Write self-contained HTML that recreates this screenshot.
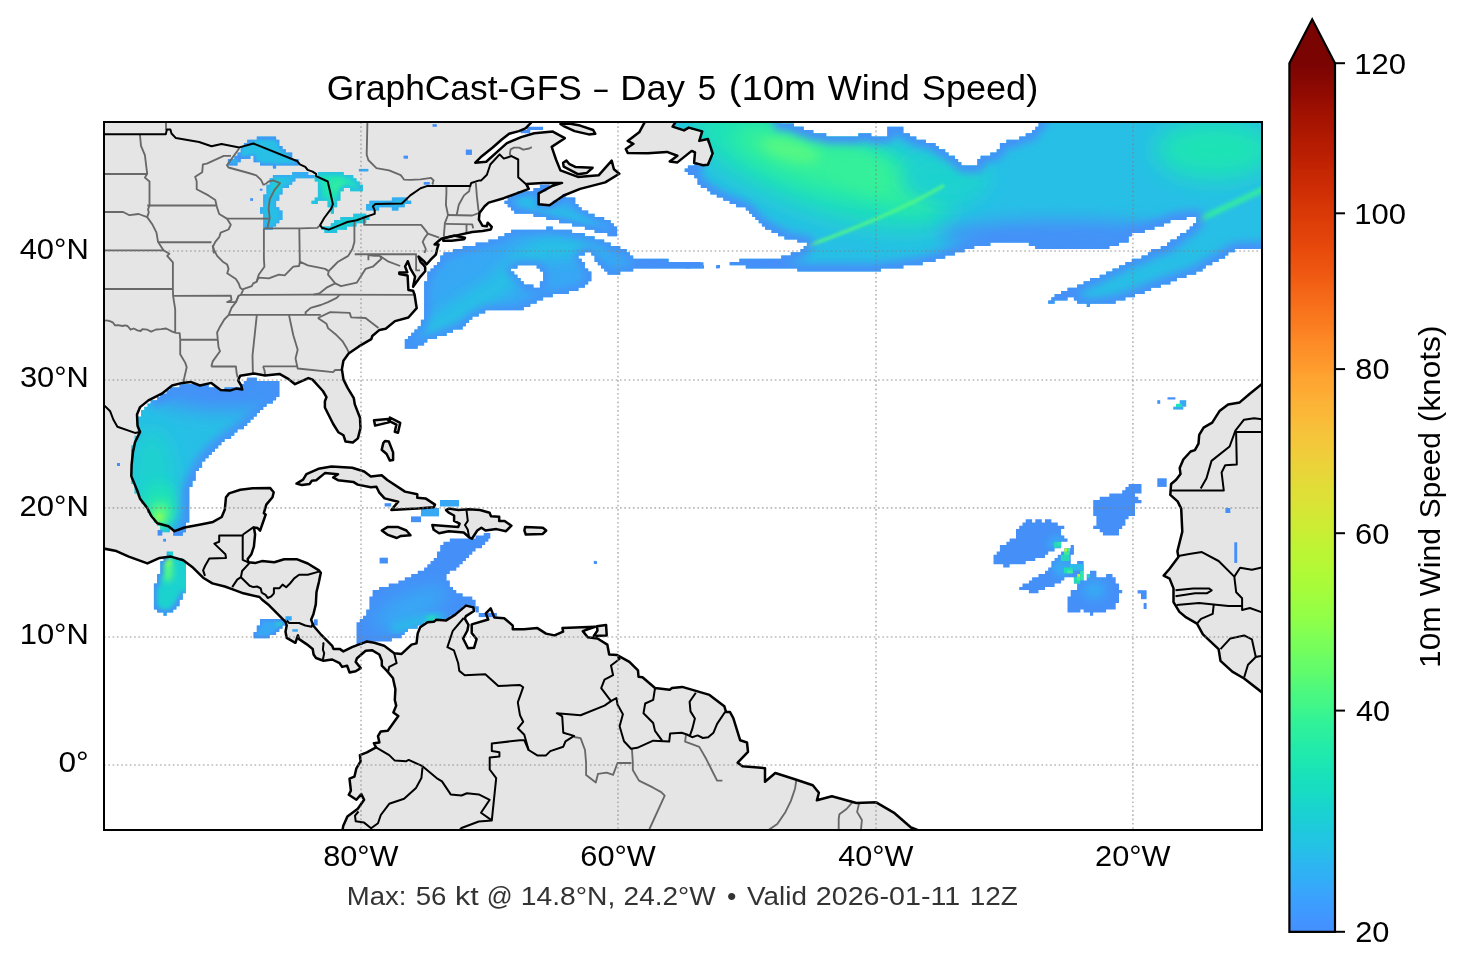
<!DOCTYPE html>
<html><head><meta charset="utf-8"><style>
html,body{margin:0;padding:0;background:#fff;}
svg{display:block;}
text{font-family:"Liberation Sans",sans-serif;}
</style></head><body>
<svg style="will-change:transform" width="1466" height="969" viewBox="0 0 1466 969">
<defs>
<clipPath id="mapclip"><rect x="104" y="122" width="1158" height="708"/></clipPath>
<linearGradient id="cb" gradientUnits="userSpaceOnUse" x1="0" y1="63.2" x2="0" y2="931.8">
<stop offset="0.0000" stop-color="#7a0403"/>
<stop offset="0.0125" stop-color="#810602"/>
<stop offset="0.0250" stop-color="#8b0902"/>
<stop offset="0.0375" stop-color="#920b01"/>
<stop offset="0.0500" stop-color="#9b0f01"/>
<stop offset="0.0625" stop-color="#a41301"/>
<stop offset="0.0750" stop-color="#a91601"/>
<stop offset="0.0875" stop-color="#b21a01"/>
<stop offset="0.1000" stop-color="#b71d02"/>
<stop offset="0.1125" stop-color="#be2102"/>
<stop offset="0.1250" stop-color="#c52603"/>
<stop offset="0.1375" stop-color="#ca2a04"/>
<stop offset="0.1500" stop-color="#d02f05"/>
<stop offset="0.1625" stop-color="#d63506"/>
<stop offset="0.1750" stop-color="#da3907"/>
<stop offset="0.1875" stop-color="#df3f08"/>
<stop offset="0.2000" stop-color="#e2430a"/>
<stop offset="0.2125" stop-color="#e7490c"/>
<stop offset="0.2250" stop-color="#eb500e"/>
<stop offset="0.2375" stop-color="#ed5510"/>
<stop offset="0.2500" stop-color="#f15d13"/>
<stop offset="0.2625" stop-color="#f46617"/>
<stop offset="0.2750" stop-color="#f66c19"/>
<stop offset="0.2875" stop-color="#f9751d"/>
<stop offset="0.3000" stop-color="#fa7b1f"/>
<stop offset="0.3125" stop-color="#fc8423"/>
<stop offset="0.3250" stop-color="#fd8d27"/>
<stop offset="0.3375" stop-color="#fe932a"/>
<stop offset="0.3500" stop-color="#fe9b2d"/>
<stop offset="0.3625" stop-color="#fea431"/>
<stop offset="0.3750" stop-color="#fea933"/>
<stop offset="0.3875" stop-color="#fcb136"/>
<stop offset="0.4000" stop-color="#fbb637"/>
<stop offset="0.4125" stop-color="#f9bc39"/>
<stop offset="0.4250" stop-color="#f6c33a"/>
<stop offset="0.4375" stop-color="#f4c73a"/>
<stop offset="0.4500" stop-color="#efcd3a"/>
<stop offset="0.4625" stop-color="#ebd339"/>
<stop offset="0.4750" stop-color="#e7d739"/>
<stop offset="0.4875" stop-color="#e1dd37"/>
<stop offset="0.5000" stop-color="#dde037"/>
<stop offset="0.5125" stop-color="#d7e535"/>
<stop offset="0.5250" stop-color="#d0ea34"/>
<stop offset="0.5375" stop-color="#cbed34"/>
<stop offset="0.5500" stop-color="#c3f134"/>
<stop offset="0.5625" stop-color="#bcf534"/>
<stop offset="0.5750" stop-color="#b7f735"/>
<stop offset="0.5875" stop-color="#affa37"/>
<stop offset="0.6000" stop-color="#a9fb39"/>
<stop offset="0.6125" stop-color="#a1fd3d"/>
<stop offset="0.6250" stop-color="#99fe42"/>
<stop offset="0.6375" stop-color="#92ff47"/>
<stop offset="0.6500" stop-color="#88ff4e"/>
<stop offset="0.6625" stop-color="#7dff56"/>
<stop offset="0.6750" stop-color="#75fe5c"/>
<stop offset="0.6875" stop-color="#69fd66"/>
<stop offset="0.7000" stop-color="#61fc6c"/>
<stop offset="0.7125" stop-color="#55fa76"/>
<stop offset="0.7250" stop-color="#4af880"/>
<stop offset="0.7375" stop-color="#43f787"/>
<stop offset="0.7500" stop-color="#38f491"/>
<stop offset="0.7625" stop-color="#2ff19b"/>
<stop offset="0.7750" stop-color="#2aefa1"/>
<stop offset="0.7875" stop-color="#22ebaa"/>
<stop offset="0.8000" stop-color="#1fe9af"/>
<stop offset="0.8125" stop-color="#1ae4b6"/>
<stop offset="0.8250" stop-color="#18e0bd"/>
<stop offset="0.8375" stop-color="#18ddc2"/>
<stop offset="0.8500" stop-color="#18d7ca"/>
<stop offset="0.8625" stop-color="#1ad2d2"/>
<stop offset="0.8750" stop-color="#1ccdd8"/>
<stop offset="0.8875" stop-color="#20c7df"/>
<stop offset="0.9000" stop-color="#23c3e4"/>
<stop offset="0.9125" stop-color="#28bceb"/>
<stop offset="0.9250" stop-color="#2eb4f2"/>
<stop offset="0.9375" stop-color="#31aff5"/>
<stop offset="0.9500" stop-color="#37a8fa"/>
<stop offset="0.9625" stop-color="#3ba0fd"/>
<stop offset="0.9750" stop-color="#3e9bfe"/>
<stop offset="0.9875" stop-color="#4294ff"/>
<stop offset="1.0000" stop-color="#448ffe"/>
</linearGradient>
</defs>
<rect width="1466" height="969" fill="#fff"/>
<g clip-path="url(#mapclip)">
<g id="land" fill="#e5e5e5" stroke="none">
<path d="M530.9,110.0 L530.9,122.9 L525.5,128.4 L518.9,131.1 L509.1,133.8 L501.5,139.8 L492.7,147.5 L481.8,156.2 L475.3,162.7 L486.2,161.7 L496.0,152.9 L506.9,143.1 L521.1,137.1 L534.2,133.3 L552.8,131.6 L564.8,138.2 L551.7,146.9 L556.0,159.5 L560.4,170.4 L577.9,176.9 L598.6,175.3 L611.7,160.6 L613.9,169.3 L619.3,173.7 L605.2,182.4 L580.1,188.9 L563.7,195.5 L549.5,205.3 L538.6,204.2 L538.6,193.3 L552.8,185.7 L562.0,182.9 L542.9,182.9 L526.6,184.0 L528.8,188.9 L516.8,193.3 L503.7,198.2 L488.7,202.6 L484.6,206.2 L479.5,212.9 L478.9,219.6 L482.6,225.8 L486.7,226.3 L487.7,222.7 L491.8,226.8 L490.8,229.4 L482.6,231.0 L472.2,232.0 L457.8,235.1 L443.3,238.2 L441.3,238.7 L438.6,241.0 L434.6,244.4 L438.6,244.4 L437.3,248.4 L435.9,254.5 L431.2,259.2 L426.5,264.5 L424.5,261.8 L418.5,256.5 L420.5,261.8 L423.2,264.5 L425.2,267.2 L425.2,271.2 L420.5,276.6 L413.1,286.7 L415.1,276.6 L410.4,268.6 L407.8,261.2 L405.1,266.5 L407.3,272.3 L399.3,272.6 L399.3,273.9 L407.6,275.5 L408.4,290.0 L413.1,290.7 L414.6,294.8 L416.7,308.2 L408.4,317.5 L395.0,321.1 L385.7,328.8 L379.5,329.9 L372.3,336.0 L371.3,339.1 L358.9,346.4 L348.6,353.6 L343.4,360.8 L341.9,369.3 L343.5,379.6 L347.6,387.9 L353.8,398.2 L354.8,404.4 L360.0,417.8 L360.5,428.1 L357.9,438.4 L352.8,442.5 L345.5,441.5 L343.5,435.3 L338.3,432.2 L333.2,424.0 L324.9,407.5 L324.9,401.3 L326.5,397.1 L322.9,391.0 L312.5,379.6 L308.4,378.1 L295.0,384.2 L287.8,378.6 L279.5,373.9 L265.1,375.5 L254.0,373.6 L240.2,375.7 L238.1,380.3 L241.2,385.5 L242.2,389.6 L236.1,388.6 L229.9,390.6 L220.6,390.1 L211.3,382.9 L199.9,385.5 L190.7,381.9 L182.4,382.9 L172.1,385.5 L161.8,393.7 L148.4,400.4 L140.1,407.1 L137.0,414.4 L137.5,425.7 L140.1,431.9 L135.0,442.2 L132.9,452.5 L131.6,465.0 L131.3,476.1 L137.4,491.0 L139.9,498.4 L147.4,508.3 L151.1,515.7 L157.3,523.2 L168.4,526.3 L174.6,531.2 L184.5,527.5 L200.6,524.4 L213.0,521.9 L221.7,517.0 L224.8,509.6 L226.0,497.2 L229.1,493.4 L240.3,489.7 L252.7,488.2 L270.0,487.9 L273.7,492.2 L272.5,497.2 L266.3,504.6 L263.8,513.3 L265.7,514.5 L260.1,530.6 L257.6,528.1 L253.9,527.5 L255.1,534.3 L253.9,546.7 L251.4,554.2 L247.7,559.1 L248.3,562.3 L255.7,562.9 L261.9,561.1 L274.3,562.3 L284.2,559.2 L296.6,559.2 L307.8,563.5 L318.9,570.4 L320.8,572.8 L318.9,582.1 L316.5,592.0 L315.8,604.4 L313.4,614.3 L311.1,619.8 L313.6,626.0 L321.1,634.7 L332.2,645.8 L333.4,648.9 L339.6,648.9 L343.4,651.4 L352.0,647.1 L361.9,643.4 L366.9,641.5 L374.3,642.7 L384.2,645.8 L394.2,653.3 L401.6,653.9 L411.5,644.6 L416.5,643.4 L417.7,633.4 L420.2,627.3 L427.6,622.3 L433.8,621.7 L436.3,619.8 L446.2,620.4 L454.9,614.9 L466.0,605.6 L473.4,607.4 L474.0,611.0 L466.0,616.1 L464.8,618.6 L468.5,624.8 L467.4,630.5 L463.1,638.5 L468.0,648.3 L474.1,647.7 L476.6,639.1 L471.7,633.0 L471.7,624.4 L488.2,619.5 L485.8,613.3 L490.7,608.4 L494.4,617.6 L504.2,618.2 L512.8,625.6 L512.8,629.3 L523.9,629.3 L537.4,628.1 L546.0,633.6 L554.5,635.4 L563.1,631.7 L562.5,628.1 L595.1,626.8 L582.8,631.1 L587.7,637.3 L597.5,638.5 L607.3,644.6 L609.2,654.5 L617.2,655.1 L629.4,661.8 L638.0,670.4 L638.5,676.7 L642.5,677.3 L655.0,688.0 L669.7,689.7 L672.0,688.0 L682.2,686.9 L695.9,690.9 L709.5,694.9 L724.3,706.2 L726.0,711.9 L729.9,711.9 L733.3,718.1 L740.2,740.3 L747.0,742.5 L748.0,751.8 L737.7,762.7 L742.5,766.2 L765.0,768.2 L765.0,781.8 L775.3,773.0 L796.4,779.8 L812.8,785.3 L818.9,792.8 L816.9,800.3 L831.9,796.2 L856.4,803.0 L876.2,802.3 L894.6,813.2 L911.0,827.5 L920.0,831.0 L930.0,845.0 L340.0,845.0 L343.2,826.1 L347.4,816.4 L357.8,808.7 L364.1,799.7 L361.3,794.1 L356.4,799.7 L348.8,794.8 L350.9,790.6 L349.5,778.7 L354.4,776.7 L356.4,768.3 L360.6,761.3 L359.9,755.1 L366.9,752.3 L376.0,747.4 L373.9,743.2 L379.4,742.5 L378.0,736.2 L380.8,731.4 L387.8,730.7 L398.3,716.0 L393.4,712.5 L396.2,705.6 L394.8,700.0 L395.4,689.2 L392.9,678.0 L386.7,670.6 L381.8,665.7 L381.8,660.7 L379.3,654.5 L371.9,650.2 L365.7,650.8 L357.0,658.2 L355.7,661.9 L360.7,668.1 L355.7,671.2 L349.6,672.5 L347.1,665.7 L342.1,666.9 L339.6,663.2 L332.2,659.5 L323.5,660.7 L316.0,658.0 L313.6,654.5 L312.7,649.0 L306.5,644.1 L299.1,639.1 L297.9,635.4 L295.4,642.8 L286.7,637.9 L285.5,631.7 L286.7,625.5 L285.5,621.8 L276.8,613.1 L268.1,604.4 L261.9,599.5 L259.5,597.0 L243.4,593.3 L233.4,589.6 L224.8,586.5 L212.4,583.4 L203.1,577.7 L193.2,567.8 L183.3,560.3 L170.9,556.6 L159.7,557.9 L147.4,563.4 L128.8,556.6 L116.4,551.1 L104.0,548.6 L90.0,546.0 L90.0,110.0 Z"/>
<path d="M443.3,238.2 L453.7,235.6 L465.0,237.7 L464.0,239.2 L451.6,240.8 L443.3,240.8 Z"/>
<path d="M560.4,124.0 L569.1,123.5 L580.1,125.6 L593.2,130.0 L595.3,133.8 L588.8,134.4 L574.6,131.1 L564.8,126.7 Z"/>
<path d="M563.1,162.7 L566.4,160.6 L569.1,163.8 L575.7,167.1 L592.6,167.7 L586.6,173.1 L577.9,174.2 L563.7,166.6 Z"/>
<path d="M675.4,110.0 L675.4,122.3 L672.6,126.6 L684.0,130.4 L688.8,127.6 L702.2,131.4 L699.3,140.9 L707.9,139.0 L712.7,153.3 L707.9,164.8 L703.1,165.3 L694.1,162.9 L695.0,152.4 L691.7,150.9 L677.4,162.4 L669.7,161.5 L677.4,155.7 L666.9,151.9 L647.8,153.3 L627.7,152.9 L625.8,149.0 L633.4,143.8 L627.7,140.9 L639.2,132.3 L644.9,121.8 L644.9,110.0 Z"/>
<path d="M374.0,420.2 L388.2,419.1 L388.8,422.4 L375.1,425.6 Z"/>
<path d="M389.9,417.5 L400.2,422.9 L398.0,432.7 L394.8,431.7 L396.4,424.6 L389.9,421.3 Z"/>
<path d="M385.0,440.9 L388.8,441.5 L393.1,452.4 L393.1,460.0 L389.9,460.6 L386.6,454.0 L381.7,449.7 L383.3,443.1 Z"/>
<path d="M296.5,483.5 L303.1,479.7 L306.4,474.2 L318.4,468.8 L331.5,466.6 L352.2,467.7 L364.2,471.5 L370.8,476.4 L381.7,475.3 L387.3,480.0 L405.0,491.6 L417.3,494.3 L417.3,497.7 L425.5,498.4 L435.0,504.6 L433.7,507.3 L417.3,508.6 L391.4,510.0 L394.1,506.6 L398.2,501.8 L384.6,498.4 L379.1,492.3 L376.4,486.8 L370.8,487.3 L357.7,484.6 L353.3,481.9 L338.0,480.2 L333.1,477.5 L338.0,474.2 L324.9,473.1 L316.2,480.2 L311.8,480.8 L309.6,484.0 L302.0,485.1 Z"/>
<path d="M381.8,530.5 L387.3,527.1 L398.2,527.1 L406.4,530.5 L410.5,535.3 L400.9,535.9 L396.8,538.0 L387.3,534.6 Z"/>
<path d="M446.0,510.0 L448.7,512.7 L454.1,515.5 L454.1,520.9 L459.6,523.7 L458.2,527.1 L441.9,525.7 L432.3,525.0 L433.7,529.8 L439.1,533.2 L448.7,531.2 L463.7,532.5 L469.1,537.3 L471.9,538.7 L477.3,530.5 L481.4,527.7 L485.5,530.5 L496.4,529.1 L506.0,531.2 L511.4,525.7 L504.6,520.9 L499.2,520.9 L499.2,516.8 L491.0,516.2 L489.6,512.7 L480.0,510.0 L469.1,509.3 L458.2,510.0 L448.7,508.6 Z"/>
<path d="M525.1,527.1 L542.8,527.7 L546.2,530.5 L542.8,533.9 L525.8,534.6 L524.4,530.5 Z"/>
<path d="M596.9,626.2 L606.1,625.0 L606.7,635.4 L593.8,636.0 L597.5,630.5 Z"/>
<path d="M1275.0,370.0 L1262.0,384.0 L1249.8,393.7 L1239.7,402.4 L1228.1,404.6 L1219.5,411.1 L1212.2,422.6 L1203.6,427.7 L1199.2,434.9 L1198.5,443.6 L1194.9,450.1 L1190.6,451.5 L1183.3,459.5 L1179.7,468.1 L1180.5,473.9 L1176.1,479.7 L1171.1,484.0 L1170.3,494.9 L1177.6,501.4 L1181.2,508.6 L1182.3,531.6 L1177.4,551.2 L1178.4,557.0 L1169.6,568.8 L1163.7,575.6 L1169.6,578.6 L1173.5,588.4 L1173.5,602.1 L1179.4,611.9 L1185.3,616.8 L1197.0,623.7 L1202.9,634.4 L1218.6,649.1 L1220.5,660.9 L1232.3,671.7 L1244.1,678.5 L1261.7,692.2 L1275.0,700.0 Z"/>
</g>
<g id="wind" stroke="none">
<defs>
<filter id="b14" x="-50%" y="-50%" width="200%" height="200%"><feGaussianBlur stdDeviation="14"/></filter>
<filter id="b10" x="-50%" y="-50%" width="200%" height="200%"><feGaussianBlur stdDeviation="10"/></filter>
<filter id="b9" x="-50%" y="-50%" width="200%" height="200%"><feGaussianBlur stdDeviation="9"/></filter>
<filter id="b6" x="-50%" y="-50%" width="200%" height="200%"><feGaussianBlur stdDeviation="6"/></filter>
<filter id="b12" x="-50%" y="-50%" width="200%" height="200%"><feGaussianBlur stdDeviation="12"/></filter>
<filter id="b1_5" x="-50%" y="-50%" width="200%" height="200%"><feGaussianBlur stdDeviation="1.5"/></filter>
<filter id="b2" x="-50%" y="-50%" width="200%" height="200%"><feGaussianBlur stdDeviation="2"/></filter>
<filter id="b4" x="-50%" y="-50%" width="200%" height="200%"><feGaussianBlur stdDeviation="4"/></filter>
<filter id="b3" x="-50%" y="-50%" width="200%" height="200%"><feGaussianBlur stdDeviation="3"/></filter>
<filter id="b7" x="-50%" y="-50%" width="200%" height="200%"><feGaussianBlur stdDeviation="7"/></filter>
<filter id="b5" x="-50%" y="-50%" width="200%" height="200%"><feGaussianBlur stdDeviation="5"/></filter>
<filter id="b2_5" x="-50%" y="-50%" width="200%" height="200%"><feGaussianBlur stdDeviation="2.5"/></filter>
<clipPath id="cN1"><path d="M671.8,117.2H781.2V120.4H671.8ZM1038.5,117.2H1266.9V120.4H1038.5ZM675.0,120.4H781.2V123.6H675.0ZM1038.5,120.4H1266.9V123.6H1038.5ZM675.0,123.6H794.0V126.8H675.0ZM1038.5,123.6H1266.9V126.8H1038.5ZM678.2,126.8H687.9V130.0H678.2ZM691.1,126.8H803.7V130.0H691.1ZM887.3,126.8H903.4V130.0H887.3ZM1035.3,126.8H1266.9V130.0H1035.3ZM700.8,130.0H813.3V133.3H700.8ZM887.3,130.0H903.4V133.3H887.3ZM1032.1,130.0H1266.9V133.3H1032.1ZM700.8,133.3H826.2V136.5H700.8ZM858.4,133.3H871.3V136.5H858.4ZM887.3,133.3H909.9V136.5H887.3ZM1025.7,133.3H1266.9V136.5H1025.7ZM700.8,136.5H916.3V139.7H700.8ZM1019.2,136.5H1266.9V139.7H1019.2ZM707.2,139.7H925.9V142.9H707.2ZM1006.4,139.7H1266.9V142.9H1006.4ZM710.4,142.9H935.6V146.1H710.4ZM999.9,142.9H1266.9V146.1H999.9ZM710.4,146.1H938.8V149.3H710.4ZM999.9,146.1H1266.9V149.3H999.9ZM710.4,149.3H945.2V152.6H710.4ZM996.7,149.3H1266.9V152.6H996.7ZM713.6,152.6H948.5V155.8H713.6ZM990.3,152.6H1266.9V155.8H990.3ZM710.4,155.8H954.9V159.0H710.4ZM980.6,155.8H1266.9V159.0H980.6ZM710.4,159.0H958.1V162.2H710.4ZM977.4,159.0H1266.9V162.2H977.4ZM694.3,162.2H697.5V165.4H694.3ZM707.2,162.2H961.3V165.4H707.2ZM977.4,162.2H1266.9V165.4H977.4ZM687.9,165.4H1266.9V168.6H687.9ZM684.7,168.6H1266.9V171.9H684.7ZM687.9,171.9H1266.9V175.1H687.9ZM694.3,175.1H1266.9V178.3H694.3ZM697.5,178.3H1266.9V181.5H697.5ZM697.5,181.5H1266.9V184.7H697.5ZM700.8,184.7H1266.9V187.9H700.8ZM707.2,187.9H1266.9V191.2H707.2ZM710.4,191.2H1266.9V194.4H710.4ZM716.8,194.4H1266.9V197.6H716.8ZM723.3,197.6H1266.9V200.8H723.3ZM729.7,200.8H1266.9V204.0H729.7ZM736.1,204.0H1266.9V207.3H736.1ZM745.8,207.3H1266.9V210.5H745.8ZM749.0,210.5H1266.9V213.7H749.0ZM752.2,213.7H1266.9V216.9H752.2ZM755.4,216.9H1186.5V220.1H755.4ZM1196.2,216.9H1266.9V220.1H1196.2ZM758.7,220.1H1170.4V223.3H758.7ZM1196.2,220.1H1266.9V223.3H1196.2ZM761.9,223.3H1164.0V226.6H761.9ZM1193.0,223.3H1266.9V226.6H1193.0ZM765.1,226.6H1154.4V229.8H765.1ZM1189.7,226.6H1266.9V229.8H1189.7ZM771.5,229.8H1144.7V233.0H771.5ZM1186.5,229.8H1266.9V233.0H1186.5ZM778.0,233.0H1131.8V236.2H778.0ZM1180.1,233.0H1266.9V236.2H1180.1ZM784.4,236.2H1128.6V239.4H784.4ZM1176.9,236.2H1266.9V239.4H1176.9ZM797.3,239.4H1128.6V242.6H797.3ZM1170.4,239.4H1266.9V242.6H1170.4ZM806.9,242.6H990.3V245.9H806.9ZM1028.9,242.6H1119.0V245.9H1028.9ZM1167.2,242.6H1266.9V245.9H1167.2ZM803.7,245.9H974.2V249.1H803.7ZM1035.3,245.9H1109.3V249.1H1035.3ZM1160.8,245.9H1266.9V249.1H1160.8ZM800.5,249.1H964.5V252.3H800.5ZM1151.1,249.1H1234.8V252.3H1151.1ZM790.8,252.3H954.9V255.5H790.8ZM1147.9,252.3H1228.3V255.5H1147.9ZM781.2,255.5H945.2V258.7H781.2ZM1141.5,255.5H1225.1V258.7H1141.5ZM739.4,258.7H935.6V261.9H739.4ZM1131.8,258.7H1218.7V261.9H1131.8ZM729.7,261.9H922.7V265.2H729.7ZM1125.4,261.9H1212.3V265.2H1125.4ZM745.8,265.2H903.4V268.4H745.8ZM1119.0,265.2H1205.8V268.4H1119.0ZM797.3,268.4H880.9V271.6H797.3ZM1112.5,268.4H1202.6V271.6H1112.5ZM1106.1,271.6H1196.2V274.8H1106.1ZM1099.7,274.8H1186.5V278.0H1099.7ZM1090.0,278.0H1176.9V281.2H1090.0ZM1083.6,281.2H1170.4V284.5H1083.6ZM1077.1,284.5H1160.8V287.7H1077.1ZM1067.5,287.7H1151.1V290.9H1067.5ZM1061.1,290.9H1144.7V294.1H1061.1ZM1054.6,294.1H1135.0V297.3H1054.6ZM1051.4,297.3H1067.5V300.5H1051.4ZM1073.9,297.3H1125.4V300.5H1073.9ZM1048.2,300.5H1054.6V303.8H1048.2ZM1077.1,300.5H1115.7V303.8H1077.1ZM1086.8,303.8H1090.0V307.0H1086.8Z"/></clipPath>
<clipPath id="cSTL"><path d="M527.0,126.8H543.1V130.0H527.0ZM520.6,130.0H530.3V133.3H520.6Z"/></clipPath>
<clipPath id="cPA"><path d="M539.9,184.7H549.6V187.9H539.9ZM533.5,187.9H546.3V191.2H533.5ZM517.4,191.2H539.9V194.4H517.4ZM511.0,194.4H539.9V197.6H511.0ZM562.4,194.4H565.6V197.6H562.4ZM507.7,197.6H539.9V200.8H507.7ZM559.2,197.6H575.3V200.8H559.2ZM504.5,200.8H539.9V204.0H504.5ZM552.8,200.8H575.3V204.0H552.8ZM507.7,204.0H578.5V207.3H507.7ZM511.0,207.3H581.7V210.5H511.0ZM514.2,210.5H588.2V213.7H514.2ZM533.5,213.7H594.6V216.9H533.5ZM546.3,216.9H604.2V220.1H546.3ZM559.2,220.1H610.7V223.3H559.2ZM572.1,223.3H613.9V226.6H572.1ZM584.9,226.6H617.1V229.8H584.9ZM594.6,229.8H617.1V233.0H594.6ZM607.5,233.0H617.1V236.2H607.5Z"/></clipPath>
<clipPath id="cPB"><path d="M546.3,226.6H552.8V229.8H546.3ZM511.0,229.8H572.1V233.0H511.0ZM504.5,233.0H584.9V236.2H504.5ZM498.1,236.2H594.6V239.4H498.1ZM488.4,239.4H604.2V242.6H488.4ZM475.6,242.6H610.7V245.9H475.6ZM462.7,245.9H620.3V249.1H462.7ZM453.0,249.1H626.8V252.3H453.0ZM443.4,252.3H584.9V255.5H443.4ZM591.4,252.3H630.0V255.5H591.4ZM440.2,255.5H578.5V258.7H440.2ZM594.6,255.5H633.2V258.7H594.6ZM440.2,258.7H581.7V261.9H440.2ZM594.6,258.7H668.6V261.9H594.6ZM437.0,261.9H584.9V265.2H437.0ZM597.8,261.9H700.8V265.2H597.8ZM433.7,265.2H517.4V268.4H433.7ZM536.7,265.2H584.9V268.4H536.7ZM601.0,265.2H704.0V268.4H601.0ZM430.5,268.4H511.0V271.6H430.5ZM539.9,268.4H588.2V271.6H539.9ZM604.2,268.4H633.2V271.6H604.2ZM427.3,271.6H514.2V274.8H427.3ZM543.1,271.6H591.4V274.8H543.1ZM607.5,271.6H620.3V274.8H607.5ZM427.3,274.8H517.4V278.0H427.3ZM543.1,274.8H591.4V278.0H543.1ZM427.3,278.0H520.6V281.2H427.3ZM543.1,278.0H591.4V281.2H543.1ZM424.1,281.2H523.8V284.5H424.1ZM539.9,281.2H588.2V284.5H539.9ZM424.1,284.5H533.5V287.7H424.1ZM539.9,284.5H584.9V287.7H539.9ZM424.1,287.7H578.5V290.9H424.1ZM424.1,290.9H568.9V294.1H424.1ZM424.1,294.1H552.8V297.3H424.1ZM424.1,297.3H543.1V300.5H424.1ZM424.1,300.5H536.7V303.8H424.1ZM424.1,303.8H530.3V307.0H424.1ZM424.1,307.0H523.8V310.2H424.1ZM424.1,310.2H485.2V313.4H424.1ZM424.1,313.4H478.8V316.6H424.1ZM424.1,316.6H472.3V319.8H424.1ZM420.9,319.8H469.1V323.1H420.9ZM420.9,323.1H465.9V326.3H420.9ZM417.7,326.3H462.7V329.5H417.7ZM414.4,329.5H453.0V332.7H414.4ZM411.2,332.7H446.6V335.9H411.2ZM408.0,335.9H437.0V339.1H408.0ZM404.8,339.1H427.3V342.4H404.8ZM404.8,342.4H424.1V345.6H404.8ZM404.8,345.6H417.7V348.8H404.8Z"/></clipPath>
<clipPath id="cSUP"><path d="M256.8,136.5H276.1V139.7H256.8ZM247.2,139.7H279.3V142.9H247.2ZM243.9,142.9H279.3V146.1H243.9ZM240.7,146.1H282.5V149.3H240.7ZM240.7,149.3H285.8V152.6H240.7ZM237.5,152.6H292.2V155.8H237.5ZM234.3,155.8H250.4V159.0H234.3ZM253.6,155.8H292.2V159.0H253.6ZM227.9,159.0H240.7V162.2H227.9ZM253.6,159.0H298.6V162.2H253.6ZM227.9,162.2H237.5V165.4H227.9ZM260.0,162.2H298.6V165.4H260.0ZM272.9,165.4H276.1V168.6H272.9Z"/></clipPath>
<clipPath id="cMICH"><path d="M292.2,171.9H308.3V175.1H292.2ZM272.9,175.1H314.7V178.3H272.9ZM269.7,178.3H295.4V181.5H269.7ZM269.7,181.5H292.2V184.7H269.7ZM266.5,184.7H289.0V187.9H266.5ZM266.5,187.9H282.5V191.2H266.5ZM266.5,191.2H282.5V194.4H266.5ZM263.2,194.4H279.3V197.6H263.2ZM263.2,197.6H279.3V200.8H263.2ZM263.2,200.8H276.1V204.0H263.2ZM263.2,204.0H276.1V207.3H263.2ZM260.0,207.3H279.3V210.5H260.0ZM260.0,210.5H282.5V213.7H260.0ZM263.2,213.7H282.5V216.9H263.2ZM263.2,216.9H282.5V220.1H263.2ZM263.2,220.1H279.3V223.3H263.2ZM263.2,223.3H276.1V226.6H263.2ZM263.2,226.6H272.9V229.8H263.2Z"/></clipPath>
<clipPath id="cHURON"><path d="M317.9,171.9H343.7V175.1H317.9ZM314.7,175.1H353.3V178.3H314.7ZM314.7,178.3H356.5V181.5H314.7ZM317.9,181.5H359.8V184.7H317.9ZM317.9,184.7H363.0V187.9H317.9ZM317.9,187.9H343.7V191.2H317.9ZM350.1,187.9H363.0V191.2H350.1ZM317.9,191.2H340.4V194.4H317.9ZM317.9,194.4H340.4V197.6H317.9ZM314.7,197.6H340.4V200.8H314.7ZM311.5,200.8H317.9V204.0H311.5ZM327.6,200.8H337.2V204.0H327.6ZM327.6,204.0H337.2V207.3H327.6ZM330.8,207.3H334.0V210.5H330.8ZM330.8,210.5H334.0V213.7H330.8Z"/></clipPath>
<clipPath id="cERIE"><path d="M353.3,213.7H366.2V216.9H353.3ZM340.4,216.9H369.4V220.1H340.4ZM334.0,220.1H366.2V223.3H334.0ZM330.8,223.3H356.5V226.6H330.8ZM321.1,226.6H346.9V229.8H321.1ZM324.4,229.8H337.2V233.0H324.4Z"/></clipPath>
<clipPath id="cONT"><path d="M391.9,197.6H408.0V200.8H391.9ZM369.4,200.8H411.2V204.0H369.4ZM366.2,204.0H404.8V207.3H366.2ZM366.2,207.3H379.1V210.5H366.2ZM391.9,207.3H398.4V210.5H391.9Z"/></clipPath>
<clipPath id="cGOM"><path d="M247.2,377.8H256.8V381.0H247.2ZM243.9,381.0H279.3V384.2H243.9ZM179.6,384.2H208.6V387.4H179.6ZM240.7,384.2H279.3V387.4H240.7ZM169.9,387.4H218.2V390.6H169.9ZM224.6,387.4H279.3V390.6H224.6ZM166.7,390.6H279.3V393.8H166.7ZM160.3,393.8H279.3V397.1H160.3ZM157.1,397.1H276.1V400.3H157.1ZM150.6,400.3H272.9V403.5H150.6ZM147.4,403.5H266.5V406.7H147.4ZM144.2,406.7H263.2V409.9H144.2ZM141.0,409.9H260.0V413.1H141.0ZM141.0,413.1H256.8V416.4H141.0ZM137.8,416.4H253.6V419.6H137.8ZM137.8,419.6H250.4V422.8H137.8ZM137.8,422.8H247.2V426.0H137.8ZM137.8,426.0H243.9V429.2H137.8ZM137.8,429.2H237.5V432.4H137.8ZM137.8,432.4H234.3V435.7H137.8ZM134.6,435.7H231.1V438.9H134.6ZM134.6,438.9H224.6V442.1H134.6ZM134.6,442.1H221.4V445.3H134.6ZM131.3,445.3H218.2V448.5H131.3ZM131.3,448.5H215.0V451.7H131.3ZM131.3,451.7H211.8V455.0H131.3ZM131.3,455.0H208.6V458.2H131.3ZM131.3,458.2H205.3V461.4H131.3ZM131.3,461.4H202.1V464.6H131.3ZM131.3,464.6H202.1V467.8H131.3ZM131.3,467.8H198.9V471.0H131.3ZM131.3,471.0H195.7V474.3H131.3ZM131.3,474.3H195.7V477.5H131.3ZM131.3,477.5H195.7V480.7H131.3ZM131.3,480.7H192.5V483.9H131.3ZM134.6,483.9H192.5V487.1H134.6ZM134.6,487.1H189.3V490.3H134.6ZM134.6,490.3H189.3V493.6H134.6ZM137.8,493.6H189.3V496.8H137.8ZM141.0,496.8H189.3V500.0H141.0ZM141.0,500.0H189.3V503.2H141.0ZM144.2,503.2H189.3V506.4H144.2ZM147.4,506.4H189.3V509.6H147.4ZM147.4,509.6H189.3V512.9H147.4ZM150.6,512.9H189.3V516.1H150.6ZM153.9,516.1H189.3V519.3H153.9ZM153.9,519.3H189.3V522.5H153.9ZM157.1,522.5H186.0V525.7H157.1ZM160.3,525.7H186.0V529.0H160.3ZM160.3,529.0H169.9V532.2H160.3ZM173.2,529.0H186.0V532.2H173.2ZM173.2,532.2H182.8V535.4H173.2Z"/></clipPath>
<clipPath id="cTEH"><path d="M166.7,551.5H173.2V554.7H166.7ZM166.7,554.7H173.2V557.9H166.7ZM163.5,557.9H182.8V561.1H163.5ZM160.3,561.1H186.0V564.3H160.3ZM160.3,564.3H186.0V567.6H160.3ZM160.3,567.6H186.0V570.8H160.3ZM160.3,570.8H186.0V574.0H160.3ZM157.1,574.0H186.0V577.2H157.1ZM157.1,577.2H186.0V580.4H157.1ZM157.1,580.4H186.0V583.6H157.1ZM153.9,583.6H186.0V586.9H153.9ZM153.9,586.9H186.0V590.1H153.9ZM153.9,590.1H186.0V593.3H153.9ZM153.9,593.3H182.8V596.5H153.9ZM153.9,596.5H182.8V599.7H153.9ZM153.9,599.7H179.6V602.9H153.9ZM153.9,602.9H179.6V606.2H153.9ZM153.9,606.2H176.4V609.4H153.9ZM157.1,609.4H173.2V612.6H157.1ZM163.5,612.6H166.7V615.8H163.5Z"/></clipPath>
<clipPath id="cPAP"><path d="M260.0,619.0H285.8V622.2H260.0ZM260.0,622.2H285.8V625.5H260.0ZM256.8,625.5H282.5V628.7H256.8ZM256.8,628.7H279.3V631.9H256.8ZM253.6,631.9H276.1V635.1H253.6ZM253.6,635.1H269.7V638.3H253.6Z"/></clipPath>
<clipPath id="cCAR"><path d="M475.6,535.4H488.4V538.6H475.6ZM449.8,538.6H488.4V541.8H449.8ZM443.4,541.8H485.2V545.0H443.4ZM440.2,545.0H482.0V548.3H440.2ZM440.2,548.3H475.6V551.5H440.2ZM437.0,551.5H472.3V554.7H437.0ZM437.0,554.7H469.1V557.9H437.0ZM433.7,557.9H465.9V561.1H433.7ZM430.5,561.1H462.7V564.3H430.5ZM427.3,564.3H459.5V567.6H427.3ZM424.1,567.6H456.3V570.8H424.1ZM417.7,570.8H449.8V574.0H417.7ZM411.2,574.0H446.6V577.2H411.2ZM404.8,577.2H446.6V580.4H404.8ZM398.4,580.4H449.8V583.6H398.4ZM388.7,583.6H449.8V586.9H388.7ZM379.1,586.9H453.0V590.1H379.1ZM372.6,590.1H456.3V593.3H372.6ZM372.6,593.3H462.7V596.5H372.6ZM369.4,596.5H472.3V599.7H369.4ZM369.4,599.7H475.6V602.9H369.4ZM369.4,602.9H475.6V606.2H369.4ZM369.4,606.2H462.7V609.4H369.4ZM472.3,606.2H478.8V609.4H472.3ZM366.2,609.4H459.5V612.6H366.2ZM475.6,609.4H478.8V612.6H475.6ZM366.2,612.6H456.3V615.8H366.2ZM363.0,615.8H449.8V619.0H363.0ZM359.8,619.0H433.7V622.2H359.8ZM356.5,622.2H424.1V625.5H356.5ZM356.5,625.5H417.7V628.7H356.5ZM356.5,628.7H408.0V631.9H356.5ZM356.5,631.9H404.8V635.1H356.5ZM356.5,635.1H401.6V638.3H356.5ZM356.5,638.3H391.9V641.5H356.5ZM356.5,641.5H363.0V644.8H356.5Z"/></clipPath>
<clipPath id="cE1"><path d="M1025.7,519.3H1032.1V522.5H1025.7ZM1035.3,519.3H1041.8V522.5H1035.3ZM1045.0,519.3H1051.4V522.5H1045.0ZM1022.5,522.5H1057.8V525.7H1022.5ZM1019.2,525.7H1064.3V529.0H1019.2ZM1016.0,529.0H1061.1V532.2H1016.0ZM1016.0,532.2H1061.1V535.4H1016.0ZM1016.0,535.4H1064.3V538.6H1016.0ZM1009.6,538.6H1067.5V541.8H1009.6ZM1006.4,541.8H1061.1V545.0H1006.4ZM999.9,545.0H1061.1V548.3H999.9ZM999.9,548.3H1054.6V551.5H999.9ZM996.7,551.5H1048.2V554.7H996.7ZM993.5,554.7H1045.0V557.9H993.5ZM993.5,557.9H1035.3V561.1H993.5ZM993.5,561.1H1025.7V564.3H993.5ZM1003.2,564.3H1009.6V567.6H1003.2Z"/></clipPath>
<clipPath id="cE23"><path d="M1070.7,545.0H1073.9V548.3H1070.7ZM1064.3,548.3H1073.9V551.5H1064.3ZM1061.1,551.5H1073.9V554.7H1061.1ZM1057.8,554.7H1070.7V557.9H1057.8ZM1054.6,557.9H1070.7V561.1H1054.6ZM1051.4,561.1H1070.7V564.3H1051.4ZM1077.1,561.1H1083.6V564.3H1077.1ZM1051.4,564.3H1083.6V567.6H1051.4ZM1048.2,567.6H1083.6V570.8H1048.2ZM1045.0,570.8H1083.6V574.0H1045.0ZM1090.0,570.8H1096.4V574.0H1090.0ZM1038.5,574.0H1083.6V577.2H1038.5ZM1086.8,574.0H1096.4V577.2H1086.8ZM1106.1,574.0H1112.5V577.2H1106.1ZM1032.1,577.2H1064.3V580.4H1032.1ZM1073.9,577.2H1083.6V580.4H1073.9ZM1086.8,577.2H1115.7V580.4H1086.8ZM1028.9,580.4H1061.1V583.6H1028.9ZM1073.9,580.4H1115.7V583.6H1073.9ZM1022.5,583.6H1054.6V586.9H1022.5ZM1077.1,583.6H1119.0V586.9H1077.1ZM1019.2,586.9H1045.0V590.1H1019.2ZM1077.1,586.9H1119.0V590.1H1077.1ZM1028.9,590.1H1038.5V593.3H1028.9ZM1070.7,590.1H1122.2V593.3H1070.7ZM1070.7,593.3H1119.0V596.5H1070.7ZM1067.5,596.5H1119.0V599.7H1067.5ZM1067.5,599.7H1119.0V602.9H1067.5ZM1067.5,602.9H1115.7V606.2H1067.5ZM1067.5,606.2H1115.7V609.4H1067.5ZM1067.5,609.4H1080.4V612.6H1067.5ZM1083.6,609.4H1106.1V612.6H1083.6ZM1090.0,612.6H1093.2V615.8H1090.0Z"/></clipPath>
<clipPath id="cE4"><path d="M1128.6,483.9H1141.5V487.1H1128.6ZM1125.4,487.1H1141.5V490.3H1125.4ZM1122.2,490.3H1141.5V493.6H1122.2ZM1109.3,493.6H1135.0V496.8H1109.3ZM1099.7,496.8H1138.3V500.0H1099.7ZM1093.2,500.0H1141.5V503.2H1093.2ZM1093.2,503.2H1135.0V506.4H1093.2ZM1093.2,506.4H1135.0V509.6H1093.2ZM1093.2,509.6H1135.0V512.9H1093.2ZM1093.2,512.9H1135.0V516.1H1093.2ZM1096.4,516.1H1128.6V519.3H1096.4ZM1096.4,519.3H1125.4V522.5H1096.4ZM1096.4,522.5H1125.4V525.7H1096.4ZM1093.2,525.7H1122.2V529.0H1093.2ZM1099.7,529.0H1119.0V532.2H1099.7ZM1102.9,532.2H1119.0V535.4H1102.9Z"/></clipPath>
</defs>
<g clip-path="url(#cN1)">
<rect x="666" y="113" width="605" height="198" fill="#27bfe6"/>
<ellipse cx="820" cy="165" rx="140" ry="45" fill="#1fe3b6" filter="url(#b14)" transform="rotate(20 820 165)"/>
<ellipse cx="815" cy="160" rx="85" ry="24" fill="#34f09a" filter="url(#b10)" transform="rotate(18 815 160)"/>
<ellipse cx="885" cy="180" rx="55" ry="18" fill="#34f09a" filter="url(#b9)" transform="rotate(25 885 180)"/>
<ellipse cx="790" cy="150" rx="30" ry="10" fill="#55f883" filter="url(#b6)" transform="rotate(15 790 150)"/>
<ellipse cx="945" cy="178" rx="45" ry="28" fill="#1bd2cf" filter="url(#b10)"/>
<ellipse cx="1060" cy="236" rx="120" ry="16" fill="#4490f8" filter="url(#b9)"/>
<ellipse cx="1215" cy="150" rx="60" ry="30" fill="#1fe3b6" filter="url(#b12)"/>
<path d="M943,186 Q895,214 805,247" fill="none" stroke="#55f883" stroke-width="3" stroke-linecap="round" filter="url(#b1_5)"/>
<path d="M1264,189 L1194,222" fill="none" stroke="#34f09a" stroke-width="5" stroke-linecap="round" filter="url(#b2)"/>
<path d="M780.0,118.0 L780.0,123.5 L793.8,123.5 L793.8,126.3 L803.0,127.2 L803.0,130.0 L813.1,130.9 L813.1,133.7 L826.0,133.7 L826.0,136.4 L858.3,136.4 L858.3,132.7 L871.2,132.7 L871.2,136.4 L886.8,136.0 L886.8,128.1 L902.5,128.1 L905.2,132.7 L912.6,135.5 L917.0,139.0 L928.0,141.5 L936.0,145.0 L943.0,150.0 L951.0,155.0 L958.0,160.0 L963.0,165.5 L977.0,166.0 L978.0,160.0 L980.5,157.0 L996.0,153.0 L1000.0,145.0 L1006.0,141.0 L1016.0,139.5 L1021.0,136.0 L1031.0,134.0 L1034.0,128.0 L1040.0,123.5 L1040.0,118.0 M1266.0,248.5 L1237.6,249.5 L1231.3,251.6 L1223.0,257.8 L1210.5,264.1 L1198.0,272.5 L1183.3,277.7 L1168.7,282.9 L1154.1,288.1 L1133.2,296.5 L1112.4,302.7 L1087.3,305.9 L1076.9,301.7 L1072.7,297.5 L1058.1,301.7 L1048.7,302.7 L1051.8,297.5 L1064.4,291.2 L1076.9,286.0 L1093.6,278.7 L1106.1,272.5 L1118.6,266.2 L1131.2,259.9 L1141.6,256.8 L1154.1,249.5 L1166.6,245.3 L1177.1,237.0 L1189.6,228.6 L1195.9,223.4 L1195.9,217.1 L1172.9,220.3 L1164.5,224.4 L1143.7,231.8 L1133.2,233.8 L1127.0,241.1 L1112.4,247.4 L1035.1,248.5 L1028.9,243.2 L996.5,243.2 L974.7,246.9 L946.0,257.1 L921.5,264.3 L892.8,268.4 L870.3,271.1 L806.9,270.4 L755.7,268.4 L727.1,263.3 L745.5,259.2 L780.3,257.1 L800.7,251.0 L806.9,243.8 L786.4,238.7 L770.0,230.5 L757.8,222.4 L747.5,210.1 L733.2,203.9 L723.0,199.8 L710.7,192.7 L700.5,185.5 L692.3,175.3 L684.1,170.2 L694.1,162.9 L703.1,165.3" fill="none" stroke="#4490f8" stroke-width="14" stroke-linejoin="round" filter="url(#b4)"/>
</g>
<g clip-path="url(#cSTL)">
<rect x="513" y="122" width="35" height="15" fill="#4490f8"/>
</g>
<g clip-path="url(#cPA)">
<rect x="500" y="179" width="123" height="61" fill="#37a8f4"/>
<ellipse cx="538" cy="206" rx="26" ry="7" fill="#27bfe6" filter="url(#b4)" transform="rotate(22 538 206)"/>
<ellipse cx="575" cy="218" rx="22" ry="5" fill="#27bfe6" filter="url(#b4)" transform="rotate(20 575 218)"/>
<path d="M504.8,200.7 L517.9,192.0 L531.0,190.9 L539.7,185.5 L552.8,184.4 L539.7,193.1 L539.7,204.0 L549.5,205.3 L563.7,195.5 L572.5,197.5 L581.2,208.4 L596.5,216.0 L607.4,219.3 L618.3,230.2 L618.3,235.7 L607.4,234.6 L592.1,230.2 L570.3,224.8 L548.4,219.3 L531.0,214.9 L515.7,212.7 L507.0,205.1 Z" fill="none" stroke="#4490f8" stroke-width="8" stroke-linejoin="round" filter="url(#b3)"/>
</g>
<g clip-path="url(#cPB)">
<rect x="399" y="223" width="309" height="132" fill="#37a8f4"/>
<path d="M432,330 Q470,305 500,285 Q520,258 548,247 L590,247" fill="none" stroke="#27bfe6" stroke-width="24" stroke-linecap="round" filter="url(#b7)"/>
<path d="M404.4,350.3 L404.4,341.5 L421.8,324.1 L424.0,311.0 L424.0,289.1 L428.4,271.7 L439.3,260.8 L443.7,254.2 L461.1,247.7 L478.6,243.3 L496.0,238.9 L509.1,232.4 L517.9,229.1 L552.8,228.0 L570.3,231.3 L592.1,236.8 L609.6,243.3 L624.8,249.9 L635.8,258.6 L661.9,259.7 L701.2,262.9 L703.4,267.3 L661.9,268.4 L640.1,268.4 L618.3,273.9 L607.4,273.9 L596.5,262.9 L589.9,252.0 L579.0,256.4 L589.9,271.7 L589.9,282.6 L574.6,291.3 L552.8,295.7 L531.0,304.4 L517.9,311.0 L487.3,311.0 L474.2,317.5 L461.1,328.4 L443.7,335.0 L426.2,341.5 L413.1,350.3 Z M511.3,269.5 L522.2,265.1 L539.7,267.3 L543.0,276.0 L539.7,287.0 L526.6,284.8 L517.9,276.0 Z" fill="none" stroke="#4490f8" stroke-width="10" stroke-linejoin="round" filter="url(#b4)"/>
</g>
<g clip-path="url(#cSUP)">
<rect x="221" y="132" width="82" height="41" fill="#27bfe6"/>
<path d="M226.4,164.8 L227.7,159.3 L238.6,156.6 L240.0,147.7 L244.1,143.6 L250.2,140.2 L257.1,137.5 L274.1,137.5 L278.9,140.2 L280.9,146.4 L285.0,150.5 L291.8,153.2 L291.8,157.3 L298.7,161.4 L297.3,165.5 L275.5,166.2 L275.5,168.2 L272.7,168.2 L272.7,165.5 L263.2,165.5 L253.6,162.1 L253.6,156.6 L240.0,159.3 L238.6,165.5 L233.2,165.5 L230.5,164.8 Z" fill="none" stroke="#4490f8" stroke-width="4" stroke-linejoin="round" filter="url(#b1_5)"/>
</g>
<g clip-path="url(#cMICH)">
<rect x="256" y="167" width="63" height="66" fill="#27bfe6"/>
<ellipse cx="277" cy="185" rx="5" ry="8" fill="#1bd2cf" filter="url(#b3)"/>
<path d="M263.2,228.2 L263.2,219.4 L260.5,211.9 L260.5,207.8 L263.2,203.7 L263.9,198.2 L265.9,188.7 L268.7,181.8 L268.7,177.7 L274.1,175.7 L279.6,175.0 L289.1,175.0 L291.8,173.0 L295.9,173.0 L298.7,172.3 L304.1,172.3 L312.3,175.0 L313.7,177.1 L295.9,177.7 L293.2,181.2 L290.5,185.9 L289.1,188.0 L285.0,187.3 L282.3,192.8 L279.6,198.2 L276.8,200.9 L276.8,206.4 L280.9,210.5 L281.6,218.7 L278.2,224.1 L272.7,228.2 Z" fill="none" stroke="#37a8f4" stroke-width="4" stroke-linejoin="round" filter="url(#b1_5)"/>
</g>
<g clip-path="url(#cHURON)">
<rect x="306" y="167" width="62" height="51" fill="#1fe3b6"/>
<ellipse cx="338" cy="186" rx="8" ry="6" fill="#34f09a" filter="url(#b4)"/>
<path d="M313.7,175.0 L319.1,172.3 L324.6,172.3 L339.6,172.3 L343.7,172.3 L346.4,175.0 L353.2,176.4 L356.0,180.5 L360.1,184.6 L362.8,185.9 L362.8,190.7 L350.5,190.7 L347.8,187.3 L342.3,190.0 L341.0,195.5 L336.9,203.7 L334.1,211.9 L331.4,213.2 L328.7,206.4 L326.0,200.9 L320.5,200.9 L313.7,203.7 L311.0,202.3 L315.0,198.2 L319.1,194.1 L317.8,187.3 L316.4,180.5 Z" fill="none" stroke="#27bfe6" stroke-width="6" stroke-linejoin="round" filter="url(#b2)"/>
</g>
<g clip-path="url(#cERIE)">
<rect x="314" y="209" width="59" height="28" fill="#1bd2cf"/>
<path d="M319.1,225.5 L320.5,231.0 L334.1,232.3 L345.1,229.6 L353.2,225.5 L366.9,222.8 L368.2,218.7 L366.9,213.9 L356.0,214.6 L347.8,217.3 L341.0,217.3 L336.9,220.0 L332.8,224.1 L327.3,225.5 Z" fill="none" stroke="#27bfe6" stroke-width="4" stroke-linejoin="round" filter="url(#b1_5)"/>
</g>
<g clip-path="url(#cONT)">
<rect x="361" y="192" width="54" height="23" fill="#27bfe6"/>
<path d="M366.2,204.4 L372.3,200.9 L392.8,200.9 L393.5,198.2 L409.2,197.5 L410.5,203.7 L398.3,207.1 L398.3,210.5 L392.8,210.5 L392.1,207.1 L379.2,207.1 L378.5,210.5 L366.9,210.5 Z" fill="none" stroke="#37a8f4" stroke-width="4" stroke-linejoin="round" filter="url(#b1_5)"/>
</g>
<g clip-path="url(#cGOM)">
<rect x="126" y="374" width="157" height="166" fill="#27bfe6"/>
<ellipse cx="225" cy="393" rx="70" ry="18" fill="#4490f8" filter="url(#b10)"/>
<ellipse cx="152" cy="480" rx="22" ry="50" fill="#1bd2cf" filter="url(#b10)"/>
<ellipse cx="160" cy="505" rx="18" ry="22" fill="#1fe3b6" filter="url(#b7)"/>
<ellipse cx="160" cy="514" rx="10" ry="12" fill="#55f883" filter="url(#b5)"/>
<ellipse cx="159" cy="517" rx="4.5" ry="4.5" fill="#86fc5e" filter="url(#b2_5)"/>
<ellipse cx="178" cy="530" rx="8" ry="6" fill="#1bd2cf" filter="url(#b4)"/>
<path d="M150.4,401.6 L162.6,394.6 L174.9,386.7 L183.7,384.9 L192.5,383.2 L208.2,385.8 L218.8,389.3 L232.8,388.4 L239.8,387.5 L243.3,381.4 L246.8,378.8 L278.4,380.5 L278.4,396.3 L267.9,405.1 L255.6,417.4 L245.1,426.1 L232.8,434.9 L218.8,445.4 L208.2,456.0 L199.5,468.2 L192.5,482.3 L188.9,492.8 L188.9,519.1 L185.4,526.1 L183.7,534.9 L173.2,534.9" fill="none" stroke="#4490f8" stroke-width="14" stroke-linejoin="round" filter="url(#b5)"/>
</g>
<g clip-path="url(#cTEH)">
<rect x="149" y="547" width="42" height="73" fill="#1bd2cf"/>
<ellipse cx="168" cy="570" rx="5" ry="12" fill="#55f883" filter="url(#b3)"/>
<ellipse cx="168" cy="562" rx="3" ry="4" fill="#86fc5e" filter="url(#b2)"/>
<path d="M185.5,593.1 L182.7,594.1 L182.7,599.6 L179.0,600.6 L179.0,605.2 L175.7,606.1 L175.7,608.9 L172.5,609.9 L172.5,612.6 L166.0,612.6 L166.0,615.4 L163.2,615.4 L163.2,612.6 L157.2,612.6 L157.2,608.9 L153.9,608.5 L153.9,583.9 L157.2,583.9 L157.2,574.1 L160.0,573.6 L160.0,561.6 L163.2,559.7 L166.0,556.0 L166.0,552.3" fill="none" stroke="#4490f8" stroke-width="6" stroke-linejoin="round" filter="url(#b2)"/>
</g>
<g clip-path="url(#cPAP)">
<rect x="246" y="612" width="46" height="31" fill="#37a8f4"/>
<ellipse cx="281" cy="624" rx="5" ry="3" fill="#1fe3b6" filter="url(#b2)"/>
<path d="M253.3,636.6 L250.8,636.6 L257.0,629.2 L260.7,621.8 L263.2,616.8 L266.9,619.3 L274.3,619.3 L285.5,620.5 L286.7,625.5 L281.8,626.7 L274.3,634.2 L268.1,637.9 L253.3,637.9 Z" fill="none" stroke="#4490f8" stroke-width="4" stroke-linejoin="round" filter="url(#b1_5)"/>
</g>
<g clip-path="url(#cCAR)">
<rect x="350" y="531" width="145" height="120" fill="#4490f8"/>
<ellipse cx="410" cy="608" rx="40" ry="14" fill="#37a8f4" filter="url(#b9)" transform="rotate(-25 410 608)"/>
<path d="M395,628 Q415,622 440,617" fill="none" stroke="#27bfe6" stroke-width="9" stroke-linecap="round" filter="url(#b4)"/>
<ellipse cx="432" cy="619" rx="6" ry="3" fill="#1fe3b6" filter="url(#b2_5)"/>
</g>
<g clip-path="url(#cE1)">
<rect x="988" y="514" width="83" height="58" fill="#4490f8"/>
<ellipse cx="1055" cy="542" rx="9" ry="5" fill="#37a8f4" filter="url(#b3)" transform="rotate(-30 1055 542)"/>
<rect x="1053.7" y="541.9" width="10.1" height="5.8" fill="#27d7bd"/>
<rect x="1057.0" y="541.9" width="6.8" height="3.1" fill="#30e3aa"/>
</g>
<g clip-path="url(#cE23)">
<rect x="1014" y="540" width="112" height="80" fill="#4490f8"/>
<ellipse cx="1094" cy="590" rx="12" ry="10" fill="#37a8f4" filter="url(#b5)"/>
<ellipse cx="1062" cy="568" rx="10" ry="9" fill="#37a8f4" filter="url(#b3)"/>
<rect x="1069.6" y="563.9" width="16.2" height="6.5" fill="#2bbbea"/>
<rect x="1060.9" y="554.9" width="8.7" height="6.1" fill="#25d9b8"/>
<rect x="1063.8" y="551.7" width="5.8" height="3.2" fill="#3aeb9c"/>
<rect x="1063.8" y="548.1" width="3.3" height="3.6" fill="#a8f83f"/>
<rect x="1067.1" y="548.1" width="2.9" height="3.6" fill="#48f090"/>
<rect x="1063.8" y="567.5" width="8.7" height="5.8" fill="#22dcb5"/>
<rect x="1067.1" y="570.4" width="5.8" height="2.9" fill="#40ee98"/>
<rect x="1073.2" y="576.9" width="6.9" height="6.9" fill="#22dcb5"/>
<rect x="1077.2" y="574.0" width="2.9" height="2.9" fill="#cbe83a"/>
<rect x="1077.2" y="576.9" width="2.9" height="3.6" fill="#45f095"/>
<rect x="1080.1" y="570.8" width="2.9" height="9.7" fill="#2fe6a8"/>
<rect x="1086.2" y="574.0" width="3.6" height="3.7" fill="#25d6bc"/>
</g>
<g clip-path="url(#cE4)">
<rect x="1088" y="479" width="57" height="62" fill="#4490f8"/>
</g>
<rect x="432.5" y="124.1" width="4.3" height="2.7" fill="#4490f8"/>
<rect x="465.8" y="149.6" width="6.1" height="5.3" fill="#4490f8"/>
<rect x="403.5" y="155.7" width="4.4" height="2.7" fill="#4490f8"/>
<rect x="423.7" y="182.0" width="6.1" height="2.7" fill="#4490f8"/>
<rect x="358.8" y="168.9" width="9.6" height="2.6" fill="#37a8f4"/>
<rect x="404.4" y="155.9" width="3.4" height="2.7" fill="#4490f8"/>
<rect x="259.8" y="188.7" width="2.7" height="2.0" fill="#4490f8"/>
<rect x="250.2" y="198.2" width="2.8" height="2.7" fill="#4490f8"/>
<rect x="411.0" y="516.4" width="10.0" height="5.8" fill="#4490f8"/>
<rect x="421.0" y="508.0" width="18.0" height="8.4" fill="#37a8f4"/>
<rect x="440.0" y="500.0" width="19.0" height="6.5" fill="#37a8f4"/>
<rect x="384.6" y="503.2" width="6.6" height="3.3" fill="#4490f8"/>
<rect x="379.6" y="557.7" width="8.3" height="5.8" fill="#4490f8"/>
<rect x="483.7" y="533.0" width="6.6" height="5.7" fill="#4490f8"/>
<rect x="478.7" y="613.0" width="18.2" height="4.1" fill="#4490f8"/>
<rect x="285.5" y="616.2" width="6.2" height="4.3" fill="#37a8f4"/>
<rect x="292.3" y="629.2" width="5.6" height="2.5" fill="#37a8f4"/>
<rect x="314.0" y="619.3" width="3.7" height="6.2" fill="#4490f8"/>
<rect x="157.6" y="530.0" width="4.7" height="5.6" fill="#4490f8"/>
<rect x="163.2" y="538.8" width="2.8" height="2.8" fill="#4490f8"/>
<rect x="173.4" y="531.9" width="9.3" height="3.7" fill="#4490f8"/>
<rect x="1157.3" y="400.2" width="2.9" height="3.6" fill="#4490f8"/>
<rect x="1167.5" y="397.3" width="7.9" height="2.2" fill="#4490f8"/>
<rect x="1179.7" y="400.2" width="6.5" height="6.5" fill="#37a8f4"/>
<rect x="1173.2" y="406.7" width="10.1" height="2.9" fill="#37a8f4"/>
<rect x="1176.0" y="403.8" width="6.0" height="3.2" fill="#1fe3b6"/>
<rect x="1157.3" y="478.3" width="9.4" height="8.6" fill="#4490f8"/>
<rect x="1234.3" y="542.3" width="2.9" height="20.6" fill="#4490f8"/>
<rect x="1225.4" y="508.0" width="4.9" height="5.0" fill="#4490f8"/>
<rect x="1137.6" y="590.2" width="9.0" height="3.3" fill="#4490f8"/>
<rect x="1141.0" y="593.0" width="5.6" height="6.2" fill="#4490f8"/>
<rect x="1143.6" y="603.0" width="3.0" height="6.0" fill="#4490f8"/>
<rect x="716.5" y="265.0" width="3.5" height="3.0" fill="#4490f8"/>
<rect x="680.0" y="262.3" width="23.5" height="3.2" fill="#4490f8"/>
<rect x="686.0" y="265.0" width="4.0" height="3.4" fill="#4490f8"/>
<rect x="716.0" y="265.4" width="3.5" height="3.0" fill="#4490f8"/>
<rect x="593.8" y="560.9" width="3.0" height="3.0" fill="#4490f8"/>
<rect x="595.0" y="562.0" width="2.0" height="2.0" fill="#4490f8"/>
<rect x="131.0" y="449.0" width="3.0" height="3.0" fill="#4490f8"/>
<rect x="117.0" y="463.0" width="3.0" height="3.0" fill="#4490f8"/>
</g>
<g id="states" fill="none" stroke="#686868" stroke-width="1.85" stroke-linejoin="round">
<path d="M100.0,174.0 L147.2,174.0"/>
<path d="M139.9,134.3 L141.0,145.9 L144.9,155.2 L146.4,167.5 L147.2,173.7 L144.9,177.6 L149.5,181.5 L149.5,205.5"/>
<path d="M147.2,205.5 L216.1,205.5"/>
<path d="M100.0,212.0 L123.2,212.0 L129.4,215.2 L138.7,214.0 L147.2,217.1"/>
<path d="M149.5,205.5 L148.0,209.3 L148.8,212.4 L147.2,217.1 L152.6,224.8 L156.5,232.6 L158.0,241.8 L163.6,250.4 L169.4,253.7 L167.2,255.9 L172.9,262.4 L172.9,289.0 L173.1,295.8 L175.2,309.4 L175.2,332.5"/>
<path d="M158.0,242.2 L211.5,242.2"/>
<path d="M100.0,250.4 L163.6,250.4"/>
<path d="M100.0,289.0 L172.9,289.0"/>
<path d="M173.1,295.8 L230.8,295.6 L231.5,300.0 L227.2,302.1 L235.9,302.1 L238.7,295.6"/>
<path d="M100.0,320.4 L104.0,320.4 L108.0,320.6 L110.5,321.3 L112.7,322.3 L115.1,325.4 L118.0,325.2 L122.6,326.0 L125.0,325.4 L127.6,326.0 L130.6,329.7 L133.7,328.5 L137.4,330.3 L140.6,331.0 L142.4,329.1 L147.4,329.7 L151.1,331.6 L156.1,329.5 L161.1,329.1 L166.1,328.5 L172.3,331.6 L176.0,332.8 L179.7,333.2 L180.2,339.7"/>
<path d="M180.2,339.7 L217.8,339.7"/>
<path d="M180.2,339.7 L180.2,354.2 L185.3,362.9 L186.7,367.2 L183.8,380.0 L184.0,384.0"/>
<path d="M211.3,366.5 L235.9,366.5 L236.6,373.0 L237.6,377.5"/>
<path d="M217.8,339.7 L218.5,347.0 L220.0,351.3 L212.7,361.4 L211.3,366.5"/>
<path d="M217.8,339.7 L217.1,332.5 L220.0,326.7 L224.3,319.5 L228.6,315.2 L231.5,307.9 L235.9,302.1 L238.7,295.6 L240.9,294.9 L243.1,289.9 L240.2,287.7 L238.7,283.4 L235.9,279.0 L227.2,273.2 L228.6,268.9 L227.2,264.6 L222.8,261.7 L217.1,255.9 L214.2,250.1 L212.7,245.8 L213.8,252.7 L213.0,246.5 L215.3,241.8 L219.2,237.2 L220.7,232.6 L228.5,229.5 L230.8,224.8 L226.9,218.6 L219.2,214.0 L216.9,207.0 L215.3,200.0 L208.4,195.4 L196.7,189.2 L196.7,181.5 L195.2,176.8 L202.2,172.2 L202.9,164.4 L206.8,163.7 L223.8,155.9 L231.0,155.9"/>
<path d="M228.6,314.9 L320.8,314.9"/>
<path d="M256.8,315.2 L252.5,355.6 L252.9,374.3"/>
<path d="M240.9,294.9 L257.2,294.9 L313.5,294.6 L414.6,294.9"/>
<path d="M243.1,289.1 L251.8,286.2 L253.2,283.4 L256.5,281.9 L258.7,277.6 L268.8,278.3 L278.9,274.7 L284.7,275.4 L293.3,266.7 L299.1,266.0 L299.8,261.7 L307.8,265.3 L317.9,267.4 L325.1,268.9 L328.7,271.1"/>
<path d="M263.9,228.4 L263.9,258.8 L264.4,266.7 L258.7,274.7 L256.5,281.9"/>
<path d="M299.3,228.4 L299.8,261.7"/>
<path d="M328.7,271.1 L333.8,266.0 L338.1,261.7 L348.2,255.9 L352.5,248.7 L354.4,242.0 L354.4,221.5"/>
<path d="M328.7,271.1 L328.0,274.7 L335.2,283.3 L326.5,287.7 L319.3,293.4 L313.5,294.6"/>
<path d="M335.2,283.3 L341.0,286.2 L356.9,282.6 L365.5,268.9 L372.8,266.7 L381.4,258.8 L380.0,255.9"/>
<path d="M380.0,255.9 L388.6,261.7 L400.2,266.0"/>
<path d="M368.4,260.2 L368.4,255.2 L374.2,255.9 L380.0,255.9"/>
<path d="M354.7,254.2 L416.1,254.2 L416.1,270.3 L420.0,270.3"/>
<path d="M339.5,294.9 L336.7,297.8 L328.0,302.1 L320.8,305.0 L310.7,307.9 L305.6,312.2 L305.6,315.1"/>
<path d="M317.9,318.0 L330.2,312.2 L349.7,312.9 L351.1,317.3 L365.5,318.0 L378.5,328.1"/>
<path d="M317.9,318.0 L326.5,323.8 L328.0,328.1 L336.7,335.3 L342.4,341.1 L346.8,348.3 L348.9,352.7"/>
<path d="M289.0,315.1 L293.3,335.3 L297.7,349.8 L295.5,358.4 L297.7,368.5 L333.0,372.2 L335.2,370.0 L341.0,370.0"/>
<path d="M263.0,366.4 L297.7,366.4"/>
<path d="M263.0,366.4 L264.4,370.0 L265.2,375.0"/>
<path d="M263.9,228.4 L299.9,228.4 L317.3,227.8 L320.7,224.9"/>
<path d="M267.4,227.8 L269.7,218.0 L268.6,208.7 L269.7,199.4 L274.4,190.1 L280.1,183.2 L273.2,180.3 L268.6,181.5 L265.1,184.4"/>
<path d="M265.1,184.4 L263.3,184.6 L261.0,179.9 L256.3,175.3 L248.6,173.0 L228.5,167.5 L226.9,165.2 L239.3,148.2"/>
<path d="M226.9,218.6 L269.7,218.6"/>
<path d="M364.2,218.0 L364.2,224.9 L421.1,224.8 L424.8,229.4 L427.9,233.6 L439.2,237.7"/>
<path d="M427.9,233.6 L424.8,237.7 L422.7,241.8 L425.8,249.0 L424.5,253.0"/>
<path d="M446.4,186.1 L446.4,193.3 L445.9,204.7 L448.0,215.0 L444.9,223.2 L443.8,236.7"/>
<path d="M470.2,186.1 L469.1,191.3 L464.0,195.4 L458.8,204.7 L456.7,215.0"/>
<path d="M475.8,183.0 L476.9,196.4 L478.4,209.8 L479.4,211.9"/>
<path d="M447.5,215.0 L472.2,215.5 L479.4,212.9"/>
<path d="M445.4,223.8 L472.2,224.3 L473.2,228.4"/>
<path d="M466.5,224.3 L466.5,232.5"/>
<path d="M367.5,118.0 L366.7,154.8 L368.3,160.0 L376.4,168.1 L389.1,170.4 L400.7,175.1 L404.2,179.7 L410.3,179.9 L420.6,179.4 L431.0,177.9 L433.6,180.5 L432.5,183.5 L433.5,184.2"/>
<path d="M511.5,156.1 L509.8,154.4 L510.6,149.3 L514.0,147.6 L519.1,147.6 L523.3,149.7 L529.2,148.5 L531.8,147.2"/>
<path d="M166.0,118.0 L166.0,130.0"/>
<path d="M574.1,737.0 L580.6,738.1 L585.0,750.0 L586.1,763.0 L586.1,774.9 L595.8,782.5 L598.0,773.8 L606.6,772.7 L613.1,774.9 L617.5,763.0 L631.5,763.0"/>
<path d="M631.9,748.7 L632.8,762.0 L632.8,770.0 L639.0,780.6 L653.2,787.7 L661.2,792.1 L664.7,795.7 L649.7,828.5 L648.0,835.0"/>
<path d="M686.0,734.5 L685.1,741.6 L699.3,746.9 L706.4,759.3 L713.5,773.5 L717.1,780.6 L722.4,780.6"/>
<path d="M796.4,779.8 L795.0,788.7 L790.9,800.9 L785.5,811.9 L777.3,824.1 L769.1,829.6 L768.0,835.0"/>
<path d="M852.8,801.9 L846.5,809.0 L839.4,814.3 L838.7,818.7 L838.7,835.0"/>
<path d="M859.0,803.7 L857.1,811.9 L861.9,820.0 L860.5,835.0"/>
</g>
<g id="borders" fill="none" stroke="#000" stroke-width="2.0" stroke-linejoin="round">
<path d="M100.0,134.3 L165.8,134.3 L166.9,129.6 L170.4,129.6 L171.5,133.5 L175.9,138.1 L199.1,142.0 L211.5,146.2 L221.5,144.0 L239.3,147.4 L253.4,143.5 L297.5,161.3 L299.8,164.4 L305.3,166.8 L307.6,169.9 L312.6,171.6 L316.1,173.9 L316.1,176.2 L327.7,181.5 L330.0,191.3 L332.9,204.1 L331.2,208.7 L324.2,218.0 L320.2,224.9 L321.9,227.8 L328.8,229.6 L340.4,224.9 L347.4,222.0 L356.7,220.3 L366.0,216.8 L374.7,213.9 L374.7,210.4 L372.9,206.4 L375.2,204.1 L401.9,203.5 L410.3,195.4 L420.6,188.2 L426.8,186.1 L470.2,186.1 L471.2,183.0 L479.4,180.4 L481.0,180.6 L486.9,174.7 L490.3,164.5 L499.6,154.4 L503.8,158.6 L511.5,156.1 L518.2,159.5 L518.2,177.2 L525.8,184.0 L528.4,188.2"/>
<path d="M140.1,431.9 L135.0,432.9 L117.4,426.7 L113.3,419.5 L110.2,411.3 L105.0,406.1 L100.0,404.0"/>
<path d="M253.9,526.9 L243.4,534.3 L242.7,535.6 L219.2,535.6 L219.2,541.8 L214.3,543.6 L225.4,554.2 L226.0,557.9 L209.3,558.5 L205.0,566.0 L203.1,570.4 L205.0,575.9"/>
<path d="M242.7,535.6 L242.7,559.8 L248.3,562.3"/>
<path d="M249.6,562.9 L242.1,571.0 L240.9,577.2 L237.2,579.6 L232.2,587.1"/>
<path d="M240.9,577.2 L249.6,585.8 L253.3,587.1 L257.0,586.5 L260.7,588.3 L261.9,593.3"/>
<path d="M262.0,592.8 L265.6,594.9 L267.7,598.0 L271.3,596.4 L273.9,593.3 L273.9,588.2 L279.5,588.2 L282.6,584.6 L286.2,587.2 L290.0,583.5 L294.2,578.4 L299.1,574.7 L307.8,574.7 L318.9,571.6"/>
<path d="M286.7,620.5 L289.2,623.0 L299.1,623.0 L305.3,625.5 L311.5,626.7 L312.7,624.2"/>
<path d="M322.9,642.5 L323.5,643.4 L322.9,649.6 L324.2,653.3 L322.9,659.5"/>
<path d="M394.2,653.3 L396.6,663.2 L389.2,666.9 L388.0,671.9"/>
<path d="M466.4,509.5 L467.8,520.9 L465.0,525.0 L467.8,529.8 L469.1,537.3"/>
<path d="M463.7,618.0 L452.8,630.8 L447.4,647.1 L453.9,650.3 L458.2,663.3 L459.3,670.9 L464.7,675.2 L485.3,674.2 L498.3,686.1 L520.0,685.0 L523.2,687.2 L517.8,702.3 L520.0,715.3 L523.2,721.8 L517.8,728.3 L524.3,734.8 L528.6,750.0 L537.3,755.4 L546.0,755.4 L550.3,751.1 L563.3,746.7 L565.5,741.3 L574.1,735.9 L563.3,732.7 L562.2,716.4 L556.8,713.2 L580.6,715.3 L604.5,705.6 L611.0,701.2 L601.2,688.2 L604.5,679.6 L613.1,675.2 L611.0,665.5 L619.6,659.0 L617.7,657.0"/>
<path d="M528.6,750.0 L524.3,740.2 L520.0,740.2 L491.8,743.5 L491.8,751.1 L499.4,752.2 L499.4,756.5 L489.7,757.6 L489.7,769.5 L496.2,778.1 L491.8,820.4 L478.8,821.5 L461.5,828.0 L455.0,835.0"/>
<path d="M422.5,766.2 L436.6,778.1 L442.0,781.4 L450.7,794.4 L461.5,795.5 L466.9,793.3 L478.8,794.4 L489.7,799.8 L481.0,812.8 L491.8,820.4"/>
<path d="M376.0,747.4 L389.2,755.1 L394.8,760.6 L405.9,761.3 L408.7,759.9 L422.5,766.2"/>
<path d="M422.5,767.3 L421.4,778.1 L416.0,787.9 L404.1,798.7 L389.2,803.8 L380.8,815.0 L378.0,823.3 L371.1,828.2 L364.1,822.6 L355.7,821.3 L355.0,815.7 L358.5,811.5"/>
<path d="M611.0,701.2 L616.4,698.0 L617.5,704.5 L622.9,714.2 L619.6,726.2 L624.0,741.3 L631.0,748.7 L637.2,747.8 L653.2,740.7 L669.2,741.6 L670.1,733.6 L681.6,732.7 L686.9,734.5 L692.2,737.2 L697.6,735.4 L702.9,738.0 L708.2,737.2 L713.5,732.7 L717.1,723.9 L724.2,713.2 L725.9,711.4"/>
<path d="M655.0,688.4 L653.2,699.9 L645.2,703.5 L643.5,713.2 L653.2,723.0 L655.0,730.9 L662.1,740.7"/>
<path d="M695.8,692.8 L689.6,701.7 L690.5,711.4 L694.9,718.5 L692.2,729.2 L689.6,736.3"/>
<path d="M1170.5,490.5 L1223.8,490.5 L1221.6,472.5 L1225.2,465.2 L1236.8,464.5 L1236.1,432.0 L1265.0,432.0"/>
<path d="M1200.7,488.4 L1206.5,478.3 L1211.5,460.9 L1229.6,446.5 L1235.4,430.6 L1244.0,419.7 L1254.1,418.3 L1265.0,419.7"/>
<path d="M1178.4,556.1 L1189.2,554.1 L1201.9,552.1 L1218.6,561.0 L1234.3,576.6 L1236.2,592.3 L1242.1,598.2 L1242.1,610.0 L1249.9,608.0 L1260.7,611.9 L1265.0,612.0"/>
<path d="M1234.3,576.6 L1240.1,567.8 L1251.9,569.8 L1260.7,567.8 L1265.0,567.0"/>
<path d="M1175.5,590.3 L1193.1,588.4 L1208.8,588.4 L1211.7,590.3 L1206.8,593.3 L1195.1,593.3 L1175.5,596.2"/>
<path d="M1176.5,605.0 L1199.0,603.1 L1228.4,606.0 L1242.1,606.0"/>
<path d="M1213.7,605.0 L1212.7,613.9 L1201.0,618.8 L1197.0,623.7"/>
<path d="M1220.5,649.1 L1230.3,638.4 L1244.1,635.4 L1251.9,639.3 L1255.8,657.0 L1260.7,656.0 L1265.0,655.0"/>
<path d="M1244.1,677.5 L1248.0,664.8 L1255.8,657.0"/>
</g>
<g id="coast" fill="none" stroke="#000" stroke-width="2.5" stroke-linejoin="round">
<path fill="none" d="M530.9,110.0 L530.9,122.9 L525.5,128.4 L518.9,131.1 L509.1,133.8 L501.5,139.8 L492.7,147.5 L481.8,156.2 L475.3,162.7 L486.2,161.7 L496.0,152.9 L506.9,143.1 L521.1,137.1 L534.2,133.3 L552.8,131.6 L564.8,138.2 L551.7,146.9 L556.0,159.5 L560.4,170.4 L577.9,176.9 L598.6,175.3 L611.7,160.6 L613.9,169.3 L619.3,173.7 L605.2,182.4 L580.1,188.9 L563.7,195.5 L549.5,205.3 L538.6,204.2 L538.6,193.3 L552.8,185.7 L562.0,182.9 L542.9,182.9 L526.6,184.0 L528.8,188.9 L516.8,193.3 L503.7,198.2 L488.7,202.6 L484.6,206.2 L479.5,212.9 L478.9,219.6 L482.6,225.8 L486.7,226.3 L487.7,222.7 L491.8,226.8 L490.8,229.4 L482.6,231.0 L472.2,232.0 L457.8,235.1 L443.3,238.2 L441.3,238.7 L438.6,241.0 L434.6,244.4 L438.6,244.4 L437.3,248.4 L435.9,254.5 L431.2,259.2 L426.5,264.5 L424.5,261.8 L418.5,256.5 L420.5,261.8 L423.2,264.5 L425.2,267.2 L425.2,271.2 L420.5,276.6 L413.1,286.7 L415.1,276.6 L410.4,268.6 L407.8,261.2 L405.1,266.5 L407.3,272.3 L399.3,272.6 L399.3,273.9 L407.6,275.5 L408.4,290.0 L413.1,290.7 L414.6,294.8 L416.7,308.2 L408.4,317.5 L395.0,321.1 L385.7,328.8 L379.5,329.9 L372.3,336.0 L371.3,339.1 L358.9,346.4 L348.6,353.6 L343.4,360.8 L341.9,369.3 L343.5,379.6 L347.6,387.9 L353.8,398.2 L354.8,404.4 L360.0,417.8 L360.5,428.1 L357.9,438.4 L352.8,442.5 L345.5,441.5 L343.5,435.3 L338.3,432.2 L333.2,424.0 L324.9,407.5 L324.9,401.3 L326.5,397.1 L322.9,391.0 L312.5,379.6 L308.4,378.1 L295.0,384.2 L287.8,378.6 L279.5,373.9 L265.1,375.5 L254.0,373.6 L240.2,375.7 L238.1,380.3 L241.2,385.5 L242.2,389.6 L236.1,388.6 L229.9,390.6 L220.6,390.1 L211.3,382.9 L199.9,385.5 L190.7,381.9 L182.4,382.9 L172.1,385.5 L161.8,393.7 L148.4,400.4 L140.1,407.1 L137.0,414.4 L137.5,425.7 L140.1,431.9 L135.0,442.2 L132.9,452.5 L131.6,465.0 L131.3,476.1 L137.4,491.0 L139.9,498.4 L147.4,508.3 L151.1,515.7 L157.3,523.2 L168.4,526.3 L174.6,531.2 L184.5,527.5 L200.6,524.4 L213.0,521.9 L221.7,517.0 L224.8,509.6 L226.0,497.2 L229.1,493.4 L240.3,489.7 L252.7,488.2 L270.0,487.9 L273.7,492.2 L272.5,497.2 L266.3,504.6 L263.8,513.3 L265.7,514.5 L260.1,530.6 L257.6,528.1 L253.9,527.5 L255.1,534.3 L253.9,546.7 L251.4,554.2 L247.7,559.1 L248.3,562.3 L255.7,562.9 L261.9,561.1 L274.3,562.3 L284.2,559.2 L296.6,559.2 L307.8,563.5 L318.9,570.4 L320.8,572.8 L318.9,582.1 L316.5,592.0 L315.8,604.4 L313.4,614.3 L311.1,619.8 L313.6,626.0 L321.1,634.7 L332.2,645.8 L333.4,648.9 L339.6,648.9 L343.4,651.4 L352.0,647.1 L361.9,643.4 L366.9,641.5 L374.3,642.7 L384.2,645.8 L394.2,653.3 L401.6,653.9 L411.5,644.6 L416.5,643.4 L417.7,633.4 L420.2,627.3 L427.6,622.3 L433.8,621.7 L436.3,619.8 L446.2,620.4 L454.9,614.9 L466.0,605.6 L473.4,607.4 L474.0,611.0 L466.0,616.1 L464.8,618.6 L468.5,624.8 L467.4,630.5 L463.1,638.5 L468.0,648.3 L474.1,647.7 L476.6,639.1 L471.7,633.0 L471.7,624.4 L488.2,619.5 L485.8,613.3 L490.7,608.4 L494.4,617.6 L504.2,618.2 L512.8,625.6 L512.8,629.3 L523.9,629.3 L537.4,628.1 L546.0,633.6 L554.5,635.4 L563.1,631.7 L562.5,628.1 L595.1,626.8 L582.8,631.1 L587.7,637.3 L597.5,638.5 L607.3,644.6 L609.2,654.5 L617.2,655.1 L629.4,661.8 L638.0,670.4 L638.5,676.7 L642.5,677.3 L655.0,688.0 L669.7,689.7 L672.0,688.0 L682.2,686.9 L695.9,690.9 L709.5,694.9 L724.3,706.2 L726.0,711.9 L729.9,711.9 L733.3,718.1 L740.2,740.3 L747.0,742.5 L748.0,751.8 L737.7,762.7 L742.5,766.2 L765.0,768.2 L765.0,781.8 L775.3,773.0 L796.4,779.8 L812.8,785.3 L818.9,792.8 L816.9,800.3 L831.9,796.2 L856.4,803.0 L876.2,802.3 L894.6,813.2 L911.0,827.5 L920.0,831.0 L930.0,845.0 L340.0,845.0 L343.2,826.1 L347.4,816.4 L357.8,808.7 L364.1,799.7 L361.3,794.1 L356.4,799.7 L348.8,794.8 L350.9,790.6 L349.5,778.7 L354.4,776.7 L356.4,768.3 L360.6,761.3 L359.9,755.1 L366.9,752.3 L376.0,747.4 L373.9,743.2 L379.4,742.5 L378.0,736.2 L380.8,731.4 L387.8,730.7 L398.3,716.0 L393.4,712.5 L396.2,705.6 L394.8,700.0 L395.4,689.2 L392.9,678.0 L386.7,670.6 L381.8,665.7 L381.8,660.7 L379.3,654.5 L371.9,650.2 L365.7,650.8 L357.0,658.2 L355.7,661.9 L360.7,668.1 L355.7,671.2 L349.6,672.5 L347.1,665.7 L342.1,666.9 L339.6,663.2 L332.2,659.5 L323.5,660.7 L316.0,658.0 L313.6,654.5 L312.7,649.0 L306.5,644.1 L299.1,639.1 L297.9,635.4 L295.4,642.8 L286.7,637.9 L285.5,631.7 L286.7,625.5 L285.5,621.8 L276.8,613.1 L268.1,604.4 L261.9,599.5 L259.5,597.0 L243.4,593.3 L233.4,589.6 L224.8,586.5 L212.4,583.4 L203.1,577.7 L193.2,567.8 L183.3,560.3 L170.9,556.6 L159.7,557.9 L147.4,563.4 L128.8,556.6 L116.4,551.1 L104.0,548.6 L90.0,546.0 L90.0,110.0 Z"/>
<path fill="none" d="M443.3,238.2 L453.7,235.6 L465.0,237.7 L464.0,239.2 L451.6,240.8 L443.3,240.8 Z"/>
<path fill="none" d="M560.4,124.0 L569.1,123.5 L580.1,125.6 L593.2,130.0 L595.3,133.8 L588.8,134.4 L574.6,131.1 L564.8,126.7 Z"/>
<path fill="none" d="M563.1,162.7 L566.4,160.6 L569.1,163.8 L575.7,167.1 L592.6,167.7 L586.6,173.1 L577.9,174.2 L563.7,166.6 Z"/>
<path fill="none" d="M675.4,110.0 L675.4,122.3 L672.6,126.6 L684.0,130.4 L688.8,127.6 L702.2,131.4 L699.3,140.9 L707.9,139.0 L712.7,153.3 L707.9,164.8 L703.1,165.3 L694.1,162.9 L695.0,152.4 L691.7,150.9 L677.4,162.4 L669.7,161.5 L677.4,155.7 L666.9,151.9 L647.8,153.3 L627.7,152.9 L625.8,149.0 L633.4,143.8 L627.7,140.9 L639.2,132.3 L644.9,121.8 L644.9,110.0 Z"/>
<path fill="none" d="M374.0,420.2 L388.2,419.1 L388.8,422.4 L375.1,425.6 Z"/>
<path fill="none" d="M389.9,417.5 L400.2,422.9 L398.0,432.7 L394.8,431.7 L396.4,424.6 L389.9,421.3 Z"/>
<path fill="none" d="M385.0,440.9 L388.8,441.5 L393.1,452.4 L393.1,460.0 L389.9,460.6 L386.6,454.0 L381.7,449.7 L383.3,443.1 Z"/>
<path fill="none" d="M296.5,483.5 L303.1,479.7 L306.4,474.2 L318.4,468.8 L331.5,466.6 L352.2,467.7 L364.2,471.5 L370.8,476.4 L381.7,475.3 L387.3,480.0 L405.0,491.6 L417.3,494.3 L417.3,497.7 L425.5,498.4 L435.0,504.6 L433.7,507.3 L417.3,508.6 L391.4,510.0 L394.1,506.6 L398.2,501.8 L384.6,498.4 L379.1,492.3 L376.4,486.8 L370.8,487.3 L357.7,484.6 L353.3,481.9 L338.0,480.2 L333.1,477.5 L338.0,474.2 L324.9,473.1 L316.2,480.2 L311.8,480.8 L309.6,484.0 L302.0,485.1 Z"/>
<path fill="none" d="M381.8,530.5 L387.3,527.1 L398.2,527.1 L406.4,530.5 L410.5,535.3 L400.9,535.9 L396.8,538.0 L387.3,534.6 Z"/>
<path fill="none" d="M446.0,510.0 L448.7,512.7 L454.1,515.5 L454.1,520.9 L459.6,523.7 L458.2,527.1 L441.9,525.7 L432.3,525.0 L433.7,529.8 L439.1,533.2 L448.7,531.2 L463.7,532.5 L469.1,537.3 L471.9,538.7 L477.3,530.5 L481.4,527.7 L485.5,530.5 L496.4,529.1 L506.0,531.2 L511.4,525.7 L504.6,520.9 L499.2,520.9 L499.2,516.8 L491.0,516.2 L489.6,512.7 L480.0,510.0 L469.1,509.3 L458.2,510.0 L448.7,508.6 Z"/>
<path fill="none" d="M525.1,527.1 L542.8,527.7 L546.2,530.5 L542.8,533.9 L525.8,534.6 L524.4,530.5 Z"/>
<path fill="none" d="M596.9,626.2 L606.1,625.0 L606.7,635.4 L593.8,636.0 L597.5,630.5 Z"/>
<path fill="none" d="M1275.0,370.0 L1262.0,384.0 L1249.8,393.7 L1239.7,402.4 L1228.1,404.6 L1219.5,411.1 L1212.2,422.6 L1203.6,427.7 L1199.2,434.9 L1198.5,443.6 L1194.9,450.1 L1190.6,451.5 L1183.3,459.5 L1179.7,468.1 L1180.5,473.9 L1176.1,479.7 L1171.1,484.0 L1170.3,494.9 L1177.6,501.4 L1181.2,508.6 L1182.3,531.6 L1177.4,551.2 L1178.4,557.0 L1169.6,568.8 L1163.7,575.6 L1169.6,578.6 L1173.5,588.4 L1173.5,602.1 L1179.4,611.9 L1185.3,616.8 L1197.0,623.7 L1202.9,634.4 L1218.6,649.1 L1220.5,660.9 L1232.3,671.7 L1244.1,678.5 L1261.7,692.2 L1275.0,700.0 Z"/>
</g>
<g id="grid" stroke="#808080" stroke-opacity="0.55" stroke-width="1.67" stroke-dasharray="1.67 2.63">
<line x1="361.0" y1="122" x2="361.0" y2="830"/>
<line x1="618.0" y1="122" x2="618.0" y2="830"/>
<line x1="876.0" y1="122" x2="876.0" y2="830"/>
<line x1="1132.9" y1="122" x2="1132.9" y2="830"/>
<line x1="104" y1="251.0" x2="1262" y2="251.0"/>
<line x1="104" y1="380.0" x2="1262" y2="380.0"/>
<line x1="104" y1="507.9" x2="1262" y2="507.9"/>
<line x1="104" y1="637.0" x2="1262" y2="637.0"/>
<line x1="104" y1="765.0" x2="1262" y2="765.0"/>
</g>
</g>
<rect x="104" y="122" width="1158" height="708" fill="none" stroke="#000" stroke-width="2"/>
<g fill="#000">
<text x="19.67" y="258.60" font-size="29.0" textLength="69.15" lengthAdjust="spacingAndGlyphs">40°N</text>
<text x="19.96" y="387.05" font-size="29.0" textLength="68.85" lengthAdjust="spacingAndGlyphs">30°N</text>
<text x="19.49" y="515.50" font-size="29.0" textLength="69.33" lengthAdjust="spacingAndGlyphs">20°N</text>
<text x="19.72" y="643.95" font-size="29.0" textLength="69.09" lengthAdjust="spacingAndGlyphs">10°N</text>
<text x="58.48" y="772.40" font-size="29.0" textLength="30.22" lengthAdjust="spacingAndGlyphs">0°</text>
<text x="323.19" y="866.00" font-size="29.0" textLength="75.34" lengthAdjust="spacingAndGlyphs">80°W</text>
<text x="580.33" y="866.00" font-size="29.0" textLength="75.53" lengthAdjust="spacingAndGlyphs">60°W</text>
<text x="838.26" y="866.00" font-size="29.0" textLength="75.25" lengthAdjust="spacingAndGlyphs">40°W</text>
<text x="1095.13" y="866.00" font-size="29.0" textLength="75.42" lengthAdjust="spacingAndGlyphs">20°W</text>
</g>
<text x="326.73" y="99.80" font-size="34.8" textLength="255.10" lengthAdjust="spacingAndGlyphs" fill="#000">GraphCast-GFS</text>
<text x="594.29" y="99.80" font-size="34.8" textLength="13.41" lengthAdjust="spacingAndGlyphs" fill="#000">–</text>
<text x="620.22" y="99.80" font-size="34.8" textLength="64.68" lengthAdjust="spacingAndGlyphs" fill="#000">Day</text>
<text x="697.65" y="99.80" font-size="34.8" textLength="18.48" lengthAdjust="spacingAndGlyphs" fill="#000">5</text>
<text x="728.74" y="99.80" font-size="34.8" textLength="87.18" lengthAdjust="spacingAndGlyphs" fill="#000">(10m</text>
<text x="827.76" y="99.80" font-size="34.8" textLength="82.16" lengthAdjust="spacingAndGlyphs" fill="#000">Wind</text>
<text x="921.83" y="99.80" font-size="34.8" textLength="116.37" lengthAdjust="spacingAndGlyphs" fill="#000">Speed)</text>
<text x="346.84" y="904.70" font-size="26.0" textLength="59.64" lengthAdjust="spacingAndGlyphs" fill="#333">Max:</text>
<text x="415.71" y="904.70" font-size="26.0" textLength="30.71" lengthAdjust="spacingAndGlyphs" fill="#333">56</text>
<text x="455.00" y="904.70" font-size="26.0" textLength="23.71" lengthAdjust="spacingAndGlyphs" fill="#333">kt</text>
<text x="486.72" y="904.70" font-size="26.0" textLength="25.87" lengthAdjust="spacingAndGlyphs" fill="#333">@</text>
<text x="520.72" y="904.70" font-size="26.0" textLength="94.57" lengthAdjust="spacingAndGlyphs" fill="#333">14.8°N,</text>
<text x="623.59" y="904.70" font-size="26.0" textLength="92.01" lengthAdjust="spacingAndGlyphs" fill="#333">24.2°W</text>
<text x="726.99" y="904.70" font-size="26.0" textLength="9.36" lengthAdjust="spacingAndGlyphs" fill="#333">•</text>
<text x="747.12" y="904.70" font-size="26.0" textLength="59.84" lengthAdjust="spacingAndGlyphs" fill="#333">Valid</text>
<text x="815.81" y="904.70" font-size="26.0" textLength="144.38" lengthAdjust="spacingAndGlyphs" fill="#333">2026-01-11</text>
<text x="969.71" y="904.70" font-size="26.0" textLength="48.17" lengthAdjust="spacingAndGlyphs" fill="#333">12Z</text>
<!-- colorbar -->
<path d="M1289.4,931.8 L1289.4,63.2 L1312.2,19.3 L1335,63.2 L1335,931.8 Z" fill="url(#cb)"/>
<path d="M1289.4,63.2 L1312.2,19.3 L1335,63.2 Z" fill="#7a0402"/>
<path d="M1289.4,931.8 L1289.4,63.2 L1312.2,19.3 L1335,63.2 L1335,931.8 Z" fill="none" stroke="#000" stroke-width="2.2" stroke-linejoin="miter"/>
<g stroke="#000" stroke-width="2">
<line x1="1335" y1="931.8" x2="1345" y2="931.8"/>
<line x1="1335" y1="710.6" x2="1345" y2="710.6"/>
<line x1="1335" y1="533.2" x2="1345" y2="533.2"/>
<line x1="1335" y1="369.1" x2="1345" y2="369.1"/>
<line x1="1335" y1="213.3" x2="1345" y2="213.3"/>
<line x1="1335" y1="63.2" x2="1345" y2="63.2"/>
</g>
<g fill="#000">
<text x="1355.16" y="942.10" font-size="29.0" textLength="34.22" lengthAdjust="spacingAndGlyphs">20</text>
<text x="1356.00" y="720.90" font-size="29.0" textLength="34.05" lengthAdjust="spacingAndGlyphs">40</text>
<text x="1355.13" y="543.50" font-size="29.0" textLength="34.35" lengthAdjust="spacingAndGlyphs">60</text>
<text x="1355.38" y="379.40" font-size="29.0" textLength="34.14" lengthAdjust="spacingAndGlyphs">80</text>
<text x="1354.35" y="223.60" font-size="29.0" textLength="51.69" lengthAdjust="spacingAndGlyphs">100</text>
<text x="1354.35" y="73.50" font-size="29.0" textLength="51.69" lengthAdjust="spacingAndGlyphs">120</text>
</g>
<text x="-667.94" y="1440.00" font-size="29.0" textLength="61.47" lengthAdjust="spacingAndGlyphs" transform="rotate(-90)" fill="#000">10m</text>
<text x="-596.56" y="1440.00" font-size="29.0" textLength="68.42" lengthAdjust="spacingAndGlyphs" transform="rotate(-90)" fill="#000">Wind</text>
<text x="-518.21" y="1440.00" font-size="29.0" textLength="85.99" lengthAdjust="spacingAndGlyphs" transform="rotate(-90)" fill="#000">Speed</text>
<text x="-422.37" y="1440.00" font-size="29.0" textLength="96.89" lengthAdjust="spacingAndGlyphs" transform="rotate(-90)" fill="#000">(knots)</text>
</svg>
</body></html>
